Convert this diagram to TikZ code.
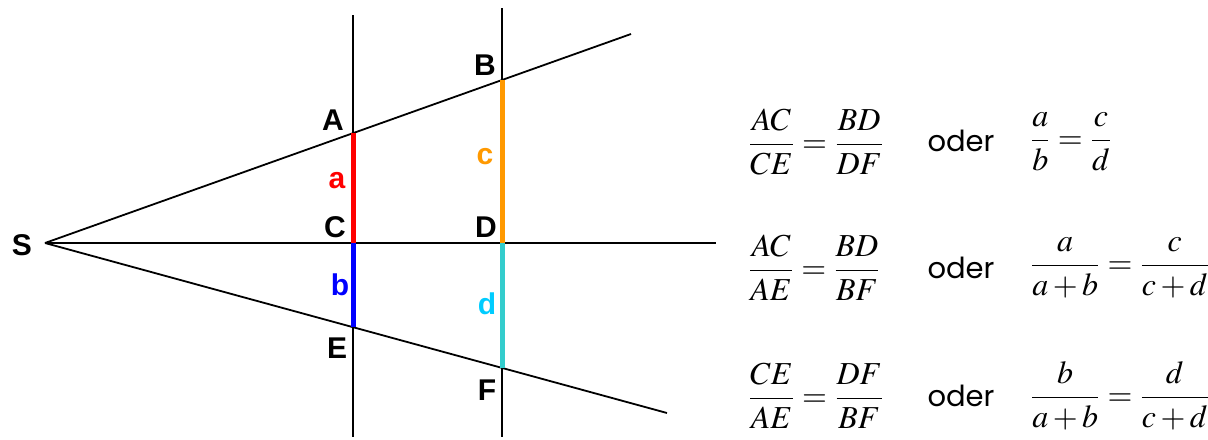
\documentclass[tikz,border=0pt]{standalone}
\usepackage{mathptmx}
\usepackage{amsmath}
\usepackage{fontspec}
\newfontfamily\arialfont{Liberation Sans}
\newfontfamily\oderfont{Poppins}
\definecolor{segorange}{RGB}{255,153,0}
\definecolor{segteal}{RGB}{51,204,204}
\definecolor{lblcyan}{RGB}{0,204,255}
\tikzset{
  pointlbl/.style={font=\arialfont\bfseries\fontsize{15}{15}\selectfont,inner sep=0pt},
  seg/.style={line width=2.5pt},
  eqn/.style={font=\fontsize{16}{19}\selectfont,inner sep=0pt,anchor=west},
  oder/.style={font=\oderfont\fontsize{14.5}{16}\selectfont,inner sep=0pt,anchor=base}
}
\begin{document}
\begin{tikzpicture}[x=0.5pt,y=-0.5pt,line width=0.9pt]
                \useasboundingbox (0,0) rectangle (1208,439);
                % rays and parallels
                \coordinate (S) at (45,243);
                \coordinate (Uend) at (631,34);
                \coordinate (Lend) at (667,413);
                \coordinate (Hend) at (716,243);
                \coordinate (A) at (353,133.15);
                \coordinate (B) at (502,80.0);
                \coordinate (C) at (353,243);
                \coordinate (D) at (502,243);
                \coordinate (E) at (353,327.2);
                \coordinate (F) at (502,367.9);
                \draw (S) -- (Uend);
                \draw (S) -- (Lend);
                \draw (S) -- (Hend);
                \draw (353,15) -- (353,437);
                \draw (502,8) -- (502,437);
                \draw[seg,red] (A) -- (C);
                \draw[seg,blue] (C) -- (E);
                \draw[seg,segorange] (B) -- (D);
                \draw[seg,segteal] (D) -- (F);
                % labels
                \node[pointlbl] (lblS) at (22,245) {S};
                \node[pointlbl] (lblA) at (333,120) {A};
                \node[pointlbl] (lblB) at (485,65) {B};
                \node[pointlbl] (lblC) at (335,227) {C};
                \node[pointlbl] (lblD) at (486,227) {D};
                \node[pointlbl] (lblE) at (337,348) {E};
                \node[pointlbl] (lblF) at (487,390) {F};
                \node[pointlbl,red] (lbla) at (337,181) {a};
                \node[pointlbl,blue] (lblb) at (340,285) {b};
                \node[pointlbl,segorange] (lblc) at (485,157) {c};
                \node[pointlbl,lblcyan] (lbld) at (487,304) {d};
                % proportions
                \node[eqn] (eqOneL) at (747,142) {$\dfrac{AC}{CE}=\dfrac{BD}{DF}$};
                \node[oder] (oderOne) at (961,151) {oder};
                \node[eqn] (eqOneR) at (1029,142) {$\dfrac{a}{b}=\dfrac{c}{d}$};
                \node[eqn] (eqTwoL) at (747,268) {$\dfrac{AC}{AE}=\dfrac{BD}{BF}$};
                \node[oder] (oderTwo) at (961,278) {oder};
                \node[eqn] (eqTwoR) at (1029,268) {$\dfrac{a}{a+b}=\dfrac{c}{c+d}$};
                \node[eqn] (eqThreeL) at (747,396) {$\dfrac{CE}{AE}=\dfrac{DF}{BF}$};
                \node[oder] (oderThree) at (961,406) {oder};
                \node[eqn] (eqThreeR) at (1029,396) {$\dfrac{b}{a+b}=\dfrac{d}{c+d}$};
            \end{tikzpicture}
\end{document}
